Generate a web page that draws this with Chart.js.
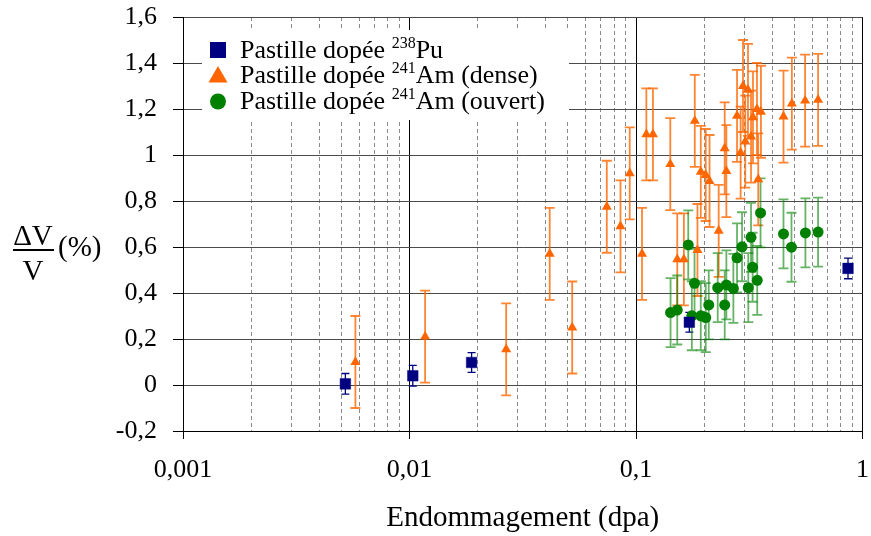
<!DOCTYPE html>
<html><head><meta charset="utf-8">
<script src="https://cdn.jsdelivr.net/npm/chart.js@4.4.0/dist/chart.umd.min.js"></script>
<style>html,body{margin:0;padding:0;background:#fff;}#wrap{width:871px;height:536px;position:relative;}</style>
</head><body><div id="wrap"><canvas id="c" width="871" height="536"></canvas></div>
<script>
// ---- data ----
const puX = [0.00521, 0.01034, 0.0188, 0.172, 0.863];
const puY = [0.005, 0.04, 0.098, 0.273, 0.507];
const puErr = [0.045, 0.045, 0.043, 0.043, 0.045];

const amDenseX = [0.00577, 0.01172, 0.02672, 0.04159, 0.05228, 0.07432, 0.0854, 0.09383, 0.1063, 0.1111, 0.1188, 0.1417, 0.1521, 0.1627, 0.1818, 0.1868, 0.1932, 0.2032, 0.2112, 0.2318, 0.2464, 0.2506, 0.2793, 0.2897, 0.2968, 0.3037, 0.3122, 0.322, 0.3285, 0.342, 0.3465, 0.3561, 0.4479, 0.4877, 0.558, 0.6367];
const amDenseY = [0.10, 0.21, 0.155, 0.57, 0.25, 0.775, 0.69, 0.92, 0.57, 1.09, 1.09, 0.96, 0.546, 0.546, 1.148, 0.587, 0.927, 0.913, 0.887, 0.67, 1.029, 0.93, 1.17, 1.01, 1.30, 1.058, 1.283, 1.08, 1.164, 1.2, 0.894, 1.188, 1.167, 1.223, 1.236, 1.24];
const amDenseErr = [0.2, 0.2, 0.2, 0.2, 0.2, 0.2, 0.2, 0.2, 0.2, 0.2, 0.2, 0.2, 0.2, 0.2, 0.2, 0.2, 0.2, 0.2, 0.2, 0.2, 0.2, 0.2, 0.2, 0.2, 0.2, 0.2, 0.2, 0.2, 0.2, 0.2, 0.2, 0.2, 0.2, 0.2, 0.2, 0.2];

const amOpenX = [0.1421, 0.1521, 0.1701, 0.1764, 0.1813, 0.1932, 0.2032, 0.2095, 0.2295, 0.2464, 0.2506, 0.2691, 0.2793, 0.2939, 0.3132, 0.322, 0.3272, 0.343, 0.3547, 0.4479, 0.4858, 0.5597, 0.6367];
const amOpenY = [0.315, 0.326, 0.609, 0.301, 0.442, 0.301, 0.293, 0.348, 0.423, 0.348, 0.435, 0.42, 0.553, 0.601, 0.423, 0.642, 0.512, 0.455, 0.748, 0.657, 0.599, 0.661, 0.665];
const amOpenErr = [0.15, 0.15, 0.15, 0.15, 0.15, 0.15, 0.15, 0.15, 0.15, 0.15, 0.15, 0.15, 0.15, 0.15, 0.15, 0.15, 0.15, 0.15, 0.15, 0.15, 0.15, 0.15, 0.15];

const legendPrefix = ['Pastille dopée ', 'Pastille dopée ', 'Pastille dopée '];
const legendSup = ['238', '241', '241'];
const legendSuffix = ['Pu', 'Am (dense)', 'Am (ouvert)'];

const xTickValues = [0.001, 0.01, 0.1, 1];
const xTickLabels = ['0,001', '0,01', '0,1', '1'];
const xMinorValues = [0.002, 0.003, 0.004, 0.005, 0.006, 0.007, 0.008, 0.009, 0.02, 0.03, 0.04, 0.05, 0.06, 0.07, 0.08, 0.09, 0.2, 0.3, 0.4, 0.5, 0.6, 0.7, 0.8, 0.9];
const yTickValues = [-0.2, 0, 0.2, 0.4, 0.6, 0.8, 1, 1.2, 1.4, 1.6];
const yTickLabels = ['-0,2', '0', '0,2', '0,4', '0,6', '0,8', '1', '1,2', '1,4', '1,6'];
const xTitle = 'Endommagement (dpa)';
const yTitleNum = 'ΔV', yTitleDen = 'V', yTitleUnit = '(%)';

const FONT = '"Liberation Serif", "Times New Roman", "DejaVu Serif", serif';
const zip = (xs, ys) => xs.map((x, i) => ({x, y: ys[i]}));

const errorBars = {
  id: 'errorBars',
  beforeDatasetsDraw(chart) {
    const ctx = chart.ctx, ys = chart.scales.y;
    chart.data.datasets.forEach((ds, i) => {
      if (!ds.errors) return;
      const meta = chart.getDatasetMeta(i);
      ctx.save();
      ctx.strokeStyle = ds.errorColor;
      ctx.lineWidth = ds.errorWidth;
      meta.data.forEach((pt, j) => {
        const v = ds.data[j].y, e = ds.errors[j];
        const yt = ys.getPixelForValue(v + e), yb = ys.getPixelForValue(v - e);
        const x = pt.x, c = ds.capHalf;
        ctx.beginPath();
        ctx.moveTo(x, yt); ctx.lineTo(x, yb);
        ctx.moveTo(x - c, yt); ctx.lineTo(x + c, yt);
        ctx.moveTo(x - c, yb); ctx.lineTo(x + c, yb);
        ctx.stroke();
      });
      ctx.restore();
    });
  }
};

const customText = {
  id: 'customText',
  afterDraw(chart) {
    const ctx = chart.ctx;
    ctx.save();
    // legend box
    ctx.fillStyle = '#fff';
    ctx.fillRect(202, 30, 367, 90);
    const rows = [50, 75.5, 101.5];
    const mx = 218;
    chart.data.datasets.forEach((ds, i) => {
      const cy = rows[i];
      ctx.fillStyle = ds.backgroundColor;
      if (ds.pointStyle === 'rect') {
        ctx.fillRect(mx - 8, cy - 8, 16, 16);
      } else if (ds.pointStyle === 'triangle') {
        ctx.beginPath();
        ctx.moveTo(mx, cy - 9.5); ctx.lineTo(mx + 9.5, cy + 7); ctx.lineTo(mx - 9.5, cy + 7);
        ctx.closePath(); ctx.fill();
      } else {
        ctx.beginPath(); ctx.arc(mx, cy, 8, 0, Math.PI * 2); ctx.fill();
      }
      ctx.fillStyle = '#000';
      ctx.textBaseline = 'alphabetic';
      ctx.textAlign = 'left';
      let x = 240;
      const base = cy + 7.5;
      ctx.font = '26px ' + FONT;
      ctx.fillText(legendPrefix[i], x, base);
      x += ctx.measureText(legendPrefix[i]).width;
      ctx.font = '16px ' + FONT;
      ctx.fillText(legendSup[i], x, base - 10);
      x += ctx.measureText(legendSup[i]).width;
      ctx.font = '26px ' + FONT;
      ctx.fillText(legendSuffix[i], x, base);
    });
    // y title
    ctx.fillStyle = '#000';
    ctx.textAlign = 'center';
    ctx.font = '29px ' + FONT;
    ctx.fillText(yTitleNum, 33, 245);
    ctx.fillText(yTitleDen, 33, 280);
    ctx.fillRect(13, 249, 41, 2);
    ctx.textAlign = 'left';
    ctx.fillText(yTitleUnit, 58, 256);
    ctx.restore();
  }
};

new Chart(document.getElementById('c'), {
  type: 'scatter',
  data: {
    datasets: [
      {label: 'Pastille dopée ²³⁸Pu', data: zip(puX, puY), errors: puErr, pointStyle: 'rect', radius: 7.5,
       backgroundColor: '#000080', borderColor: 'rgba(0,0,128,0.45)', borderWidth: 1,
       errorColor: '#000080', errorWidth: 1.3, capHalf: 4},
      {label: 'Pastille dopée ²⁴¹Am (dense)', data: zip(amDenseX, amDenseY), errors: amDenseErr, pointStyle: 'triangle', radius: 5.8,
       backgroundColor: '#ff6600', borderColor: '#ff6600', borderWidth: 0,
       errorColor: 'rgba(255,102,0,0.8)', errorWidth: 1.8, capHalf: 5},
      {label: 'Pastille dopée ²⁴¹Am (ouvert)', data: zip(amOpenX, amOpenY), errors: amOpenErr, pointStyle: 'circle', radius: 5.5,
       backgroundColor: '#008000', borderColor: '#008000', borderWidth: 0,
       errorColor: 'rgba(0,128,0,0.6)', errorWidth: 1.8, capHalf: 5}
    ]
  },
  options: {
    responsive: false, animation: false, events: [],
    layout: {padding: {top: 17, right: 6, bottom: 0, left: 0}},
    plugins: {legend: {display: false}, tooltip: {enabled: false}},
    scales: {
      x2: {
        type: 'logarithmic', position: 'top', min: 0.001, max: 1,
        afterBuildTicks: s => { s.ticks = xMinorValues.map(v => ({value: v})); },
        ticks: {display: false},
        grid: {color: '#8a8a8a', lineWidth: 1, drawTicks: false},
        border: {display: false, dash: [4, 3]},
        afterFit: s => { s.height = 0; s.paddingLeft = 0; s.paddingRight = 0; s.paddingTop = 0; s.paddingBottom = 0; }
      },
      x: {
        type: 'logarithmic', position: 'bottom', min: 0.001, max: 1,
        afterBuildTicks: s => { s.ticks = xTickValues.map(v => ({value: v})); },
        ticks: {callback: (v, i) => xTickLabels[i], autoSkip: false, maxRotation: 0, color: '#000',
                font: {family: FONT, size: 26}, padding: 16},
        grid: {color: '#000', lineWidth: 1, tickLength: 8, tickColor: '#000'},
        border: {color: '#000', width: 1},
        title: {display: true, text: xTitle, color: '#000', font: {family: FONT, size: 29}, padding: {top: 0, bottom: 0}},
        afterFit: s => { s.height = 105; s.paddingLeft = 0; s.paddingRight = 0; }
      },
      y: {
        type: 'linear', min: -0.2, max: 1.6,
        afterBuildTicks: s => { s.ticks = yTickValues.map(v => ({value: v})); },
        ticks: {callback: (v, i) => yTickLabels[i], color: '#000', font: {family: FONT, size: 26}, padding: 16},
        grid: {color: '#4a4a4a', lineWidth: 1, tickLength: 10, tickColor: '#000'},
        border: {color: '#000', width: 1},
        afterFit: s => { s.width = 183; s.paddingTop = 0; s.paddingBottom = 0; }
      }
    }
  },
  plugins: [errorBars, customText]
});
</script>
</body></html>
